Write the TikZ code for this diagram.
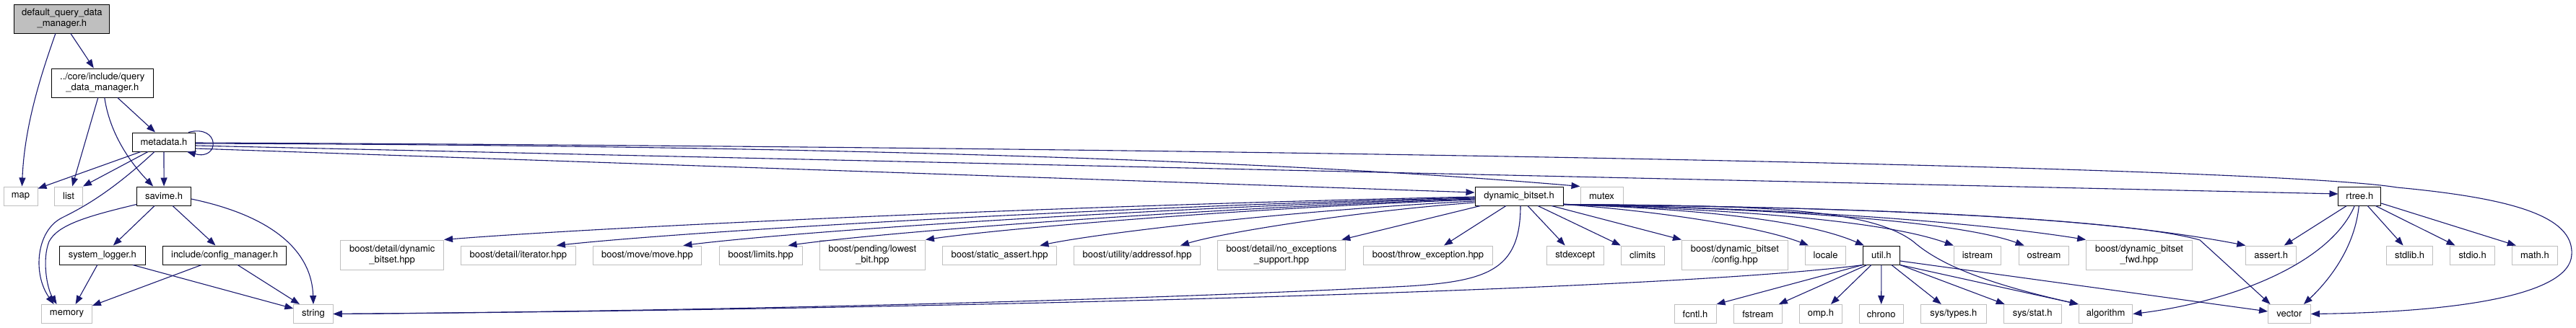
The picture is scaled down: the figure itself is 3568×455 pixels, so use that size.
\documentclass[tikz,border=0pt]{standalone}
\usepackage{fontspec}
\setmainfont{TeX Gyre Heros}
\usepackage{tikz}
\usetikzlibrary{arrows.meta}
\definecolor{linkblue}{RGB}{25,25,112}
\definecolor{extgrey}{RGB}{191,191,191}
\definecolor{rootgrey}{RGB}{191,191,191}

\begin{document}
\begin{tikzpicture}[x=1pt, y=-1pt,
  incl/.style={draw, line width=1pt, inner sep=0pt, minimum height=26pt,
    font=\fontsize{13}{15}\selectfont, align=center},
  hdr/.style={incl, draw=black},
  ext/.style={incl, draw=extgrey},
  dbl/.style={minimum height=41pt},
  dep/.style={draw=linkblue, line width=1.1pt, -{Triangle[length=12pt,width=9pt]}}]
  \fill[white] (0,0) rectangle (3568,455);
  \useasboundingbox (0,0) rectangle (3568,455);
  % eigen headers
  \node[hdr, fill=rootgrey, minimum height=40pt, minimum width=132pt] (root) at (85.9,26) {default\_query\_data\\\_manager.h};
  \node[hdr, minimum height=40pt, minimum width=140.4pt] (qdm) at (141.8,115) {../core/include/query\\\_data\_manager.h};
  \node[hdr, minimum width=87pt] (meta) at (227,197) {metadata.h};
  \node[hdr, minimum width=74.6pt] (savime) at (227.1,272) {savime.h};
  \node[hdr, minimum width=119pt] (syslog) at (141.8,354) {system\_logger.h};
  \node[hdr, minimum width=170.6pt] (cfgmgr) at (311.1,354) {include/config\_manager.h};
  \node[hdr, minimum width=122pt] (dyn) at (2104,272) {dynamic\_bitset.h};
  \node[hdr, minimum width=50.9pt] (util) at (2605.9,354) {util.h};
  \node[hdr, minimum width=58.7pt] (rtree) at (3268.3,272) {rtree.h};
  % rij 3
  \node[ext, minimum width=47pt] (map) at (28.5,272) {map};
  \node[ext, minimum width=38.6pt] (list) at (95.1,272) {list};
  \node[ext, minimum width=59pt] (mutex) at (2218.5,272) {mutex};
  % rij 4
  \node[ext, dbl, minimum width=142.7pt] (bdyn) at (543.2,353.5) {boost/detail/dynamic\\\_bitset.hpp};
  \node[ext, minimum width=159.2pt] (biter) at (717.8,354) {boost/detail/iterator.hpp};
  \node[ext, minimum width=150.8pt] (bmove) at (896.5,354) {boost/move/move.hpp};
  \node[ext, minimum width=114.8pt] (blim) at (1053.8,354) {boost/limits.hpp};
  \node[ext, dbl, minimum width=146.1pt] (blow) at (1208.4,353.5) {boost/pending/lowest\\\_bit.hpp};
  \node[ext, minimum width=158.8pt] (bsa) at (1384.5,354) {boost/static\_assert.hpp};
  \node[ext, minimum width=174.8pt] (baddr) at (1575.1,354) {boost/utility/addressof.hpp};
  \node[ext, dbl, minimum width=177.6pt] (bnoex) at (1775,353.5) {boost/detail/no\_exceptions\\\_support.hpp};
  \node[ext, minimum width=178.7pt] (bthrow) at (1978,354) {boost/throw\_exception.hpp};
  \node[ext, minimum width=78.8pt] (stdexcept) at (2181.7,354) {stdexcept};
  \node[ext, minimum width=59.7pt] (climits) at (2275.2,354) {climits};
  \node[ext, dbl, minimum width=146.9pt] (bcfg) at (2402.9,353.5) {boost/dynamic\_bitset\\/config.hpp};
  \node[ext, minimum width=56.3pt] (locale) at (2528.6,354) {locale};
  \node[ext, minimum width=65.4pt] (istream) at (2739,354) {istream};
  \node[ext, minimum width=69.7pt] (ostream) at (2831,354) {ostream};
  \node[ext, dbl, minimum width=146.7pt] (bfwd) at (2963,353.5) {boost/dynamic\_bitset\\\_fwd.hpp};
  \node[ext, minimum width=69.8pt] (assert) at (3145.7,354) {assert.h};
  \node[ext, minimum width=64.2pt] (stdlib) at (3337.6,354) {stdlib.h};
  \node[ext, minimum width=61.5pt] (stdio) at (3424.6,354) {stdio.h};
  \node[ext, minimum width=63.1pt] (math) at (3510.9,354) {math.h};
  % rij 5
  \node[ext, minimum width=69.6pt] (memory) at (92.6,435.5) {memory};
  \node[ext, minimum width=54.3pt] (string) at (434,435.5) {string};
  \node[ext, minimum width=58pt] (fcntl) at (2348,435.5) {fcntl.h};
  \node[ext, minimum width=67pt] (fstream) at (2434.8,435.5) {fstream};
  \node[ext, minimum width=58.9pt] (omp) at (2521.9,435.5) {omp.h};
  \node[ext, minimum width=61.3pt] (chrono) at (2605.7,435.5) {chrono};
  \node[ext, minimum width=90.7pt] (systypes) at (2705.8,435.5) {sys/types.h};
  \node[ext, minimum width=80pt] (sysstat) at (2815.2,435.5) {sys/stat.h};
  \node[ext, minimum width=74.6pt] (algorithm) at (2916.6,435.5) {algorithm};
  \node[ext, minimum width=58.8pt] (vector) at (3170.9,435.5) {vector};
  % default_query_data_manager.h
  \draw[dep] ([xshift=-9pt]root.south) .. controls (60,95) and (34,170) .. ([xshift=2pt]map.north);
  \draw[dep] ([xshift=12pt]root.south) -- ([xshift=-12pt]qdm.north);
  % query_data_manager.h
  \draw[dep] ([xshift=-6pt]qdm.south) -- ([xshift=5pt]list.north);
  \draw[dep] ([xshift=3pt]qdm.south) .. controls (152,185) and (180,225) .. ([xshift=-15pt]savime.north);
  \draw[dep] ([xshift=21pt]qdm.south) -- ([xshift=-12pt]meta.north);
  % metadata.h
  \draw[dep] ([xshift=-10pt]meta.north east) .. controls (305,172) and (305,223) .. ([xshift=-12pt]meta.south east);
  \draw[dep] ([xshift=-32pt]meta.south) -- ([yshift=-3pt]map.north east);
  \draw[dep] ([xshift=-22pt]meta.south) -- (list.north east);
  \draw[dep] ([xshift=-13pt]meta.south) .. controls (150,270) and (110,290) .. (86,302)
      .. controls (50,320) and (45,380) .. ([xshift=-18pt]memory.north);
  \draw[dep] (meta.south) -- (savime.north);
  \draw[dep] ([yshift=-9pt]meta.east) -- ([yshift=5pt]dyn.west);
  \draw[dep] ([yshift=-2pt]meta.east) .. controls (1200,202) and (1800,225) .. (mutex.north west);
  \draw[dep] ([yshift=-5pt]meta.east) -- ([yshift=3pt]rtree.west);
  \draw[dep] ([yshift=-1pt]meta.east) .. controls (1800,205) and (3150,232) .. (3320,260)
      .. controls (3480,275) and (3565,300) .. (3562,353)
      .. controls (3560,410) and (3400,433) .. (vector.east);
  % savime.h
  \draw[dep] ([yshift=2pt]savime.south west) .. controls (120,300) and (80,312) .. (68,335)
      .. controls (58,360) and (65,400) .. ([xshift=-14pt]memory.north);
  \draw[dep] ([xshift=-13pt]savime.south) -- ([xshift=15pt]syslog.north);
  \draw[dep] ([xshift=12pt]savime.south) -- ([xshift=-12.6pt]cfgmgr.north);
  \draw[dep] ([yshift=-4pt]savime.east) .. controls (380,300) and (432,350) .. (string.north);
  % system_logger.h, config_manager.h
  \draw[dep] ([xshift=-7pt]syslog.south) -- ([xshift=12pt]memory.north);
  \draw[dep] ([xshift=42pt]syslog.south) -- ([yshift=7.5pt]string.west);
  \draw[dep] ([xshift=-32pt]cfgmgr.south) -- ([yshift=-2pt]memory.north east);
  \draw[dep] ([xshift=18pt]cfgmgr.south) -- ([xshift=-19pt]string.north);
  % dynamic_bitset.h naar links
  \draw[dep] ([yshift=-1pt]dyn.west) .. controls (1473,285) and (832,315) .. (bdyn.north east);
  \draw[dep] ([yshift=-2pt]dyn.west) .. controls (1534,287) and (961,320) .. ([xshift=-27pt]biter.north east);
  \draw[dep] ([yshift=-3pt]dyn.west) .. controls (1604,288) and (1111,320) .. ([xshift=-26pt]bmove.north east);
  \draw[dep] ([yshift=-4pt]dyn.west) .. controls (1662,289) and (1234,321) .. ([xshift=-20pt]blim.north east);
  \draw[dep] ([yshift=-5pt]dyn.west) .. controls (1738,288) and (1396,316) .. (blow.north east);
  \draw[dep] ([yshift=-7pt]dyn.west) .. controls (1802,291) and (1530,322) .. ([xshift=-24pt]bsa.north east);
  \draw[dep] ([yshift=-9pt]dyn.west) .. controls (1880,293) and (1696,322) .. ([xshift=-28pt]baddr.north east);
  \draw[dep] ([xshift=8pt]dyn.south west) -- ([xshift=-6pt]bnoex.north east);
  \draw[dep] ([xshift=-18pt]dyn.south) -- ([xshift=22pt]bthrow.north);
  \draw[dep] ([xshift=2pt]dyn.south) .. controls (2106,375) and (2060,390) .. (1950,397)
      .. controls (1500,420) and (900,432) .. (string.east);
  \draw[dep] ([xshift=12pt]dyn.south) -- ([xshift=-14pt]stdexcept.north);
  \draw[dep] ([xshift=26pt]dyn.south) -- (climits.north west);
  \draw[dep] ([xshift=45pt]dyn.south) -- (bcfg.north west);
  % dynamic_bitset.h naar rechts
  \draw[dep] ([yshift=2pt]dyn.south east) .. controls (2300,293) and (2440,315) .. ([xshift=5pt]locale.north west);
  \draw[dep] ([yshift=2pt]dyn.south east) .. controls (2350,290) and (2500,305) .. ([xshift=2pt]util.north west);
  \draw[dep] ([yshift=2pt]dyn.south east) .. controls (2450,292) and (2620,310) .. (istream.north west);
  \draw[dep] ([yshift=2pt]dyn.south east) .. controls (2500,290) and (2720,310) .. ([xshift=8pt]ostream.north west);
  \draw[dep] ([yshift=2pt]dyn.south east) .. controls (2550,290) and (2780,315) .. (bfwd.north west);
  \draw[dep] ([yshift=2pt]dyn.south east) .. controls (2450,285) and (2590,290) .. (2650,335)
      .. controls (2690,370) and (2760,395) .. (algorithm.north west);
  \draw[dep] ([yshift=2pt]dyn.south east) .. controls (2600,288) and (2900,300) .. (assert.north west);
  \draw[dep] ([yshift=2pt]dyn.south east) .. controls (2600,287) and (2950,305) .. (3047,333)
      -- ([xshift=3.5pt]vector.north west);
  % util.h
  \draw[dep] (util.south west) .. controls (2300,405) and (1200,430) .. (string.east);
  \draw[dep] (util.south west) -- (fcntl.north east);
  \draw[dep] ([xshift=-20pt]util.south) -- ([xshift=-5pt]fstream.north east);
  \draw[dep] ([xshift=-14pt]util.south) -- ([xshift=14pt]omp.north);
  \draw[dep] (util.south) -- (chrono.north);
  \draw[dep] ([xshift=14pt]util.south) -- ([xshift=-17pt]systypes.north);
  \draw[dep] (util.south east) -- ([xshift=2pt]sysstat.north west);
  \draw[dep] (util.south east) -- (algorithm.north west);
  \draw[dep] ([yshift=-8pt]util.east) -- ([yshift=3.5pt]vector.west);
  % rtree.h
  \draw[dep] ([xshift=-18pt]rtree.south) -- ([xshift=18pt]assert.north);
  \draw[dep] ([xshift=-7pt]rtree.south) .. controls (3225,370) and (3080,420) .. (algorithm.east);
  \draw[dep] ([xshift=-1pt]rtree.south) .. controls (3262,340) and (3230,385) .. ([xshift=20pt]vector.north);
  \draw[dep] ([xshift=11pt]rtree.south) -- ([xshift=-9pt]stdlib.north);
  \draw[dep] ([xshift=22pt]rtree.south) -- ([xshift=-24pt]stdio.north);
  \draw[dep] ([yshift=-10pt]rtree.east) -- ([xshift=6pt]math.north west);
\end{tikzpicture}
\end{document}
